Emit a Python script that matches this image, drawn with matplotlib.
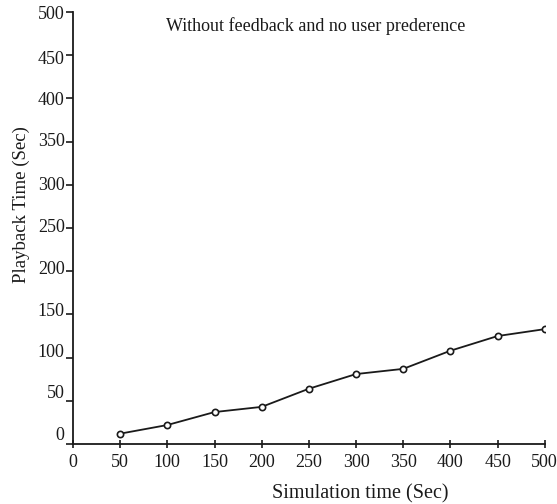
import matplotlib.pyplot as plt
from matplotlib.transforms import ScaledTranslation

# Datos
sim_time = [50, 100, 150, 200, 250, 300, 350, 400, 450, 500]
playback = [12, 22, 37, 43, 64, 81, 87, 108, 125, 133]
x_ticks = [0, 50, 100, 150, 200, 250, 300, 350, 400, 450, 500]
y_ticks = [0, 50, 100, 150, 200, 250, 300, 350, 400, 450, 500]

plt.rcParams['font.family'] = ['Liberation Serif', 'DejaVu Serif']

fig = plt.figure(figsize=(5.57, 5.04), dpi=100)
ax = fig.add_axes([0.131, 0.119, 0.847, 0.857])

ax.plot(sim_time, playback, color='#1a1a1a', linewidth=1.3,
        marker='o', markersize=4.5, markerfacecolor='white',
        markeredgecolor='#1a1a1a', markeredgewidth=1.2)

ax.set_xlim(0, 500)
ax.set_ylim(0, 500)
ax.set_xticks(x_ticks)
ax.set_yticks(y_ticks)

for s in ['top', 'right']:
    ax.spines[s].set_visible(False)
for s in ['left', 'bottom']:
    ax.spines[s].set_linewidth(1.3)
    ax.spines[s].set_color('#1a1a1a')

ax.tick_params(axis='y', direction='out', length=5, width=1.2, labelsize=13, pad=1, colors='#1a1a1a')
ax.tick_params(axis='x', direction='inout', length=6, width=1.2, labelsize=13, pad=4, colors='#1a1a1a')

# las etiquetas del eje y estan un poco desplazadas hacia arriba en el original
desplaz = [11, 9, 7, 5, 4, 3, 1, 2, 0, -2, 0]
for lab, d in zip(ax.get_yticklabels(), desplaz):
    lab.set_transform(lab.get_transform() + ScaledTranslation(0, d / 100, fig.dpi_scale_trans))

ax.set_xlabel('Simulation time (Sec)', fontsize=14.5, color='#1a1a1a')
ax.xaxis.set_label_coords(0.608, -0.094)
ax.set_ylabel('Playback Time (Sec)', fontsize=13.5, color='#1a1a1a')
ax.yaxis.set_label_coords(-0.091, 0.555)

ax.text(257, 484, 'Without feedback and no user prederence', fontsize=13,
        ha='center', va='center', color='#1a1a1a')

fig.savefig('out.png', dpi=100)
